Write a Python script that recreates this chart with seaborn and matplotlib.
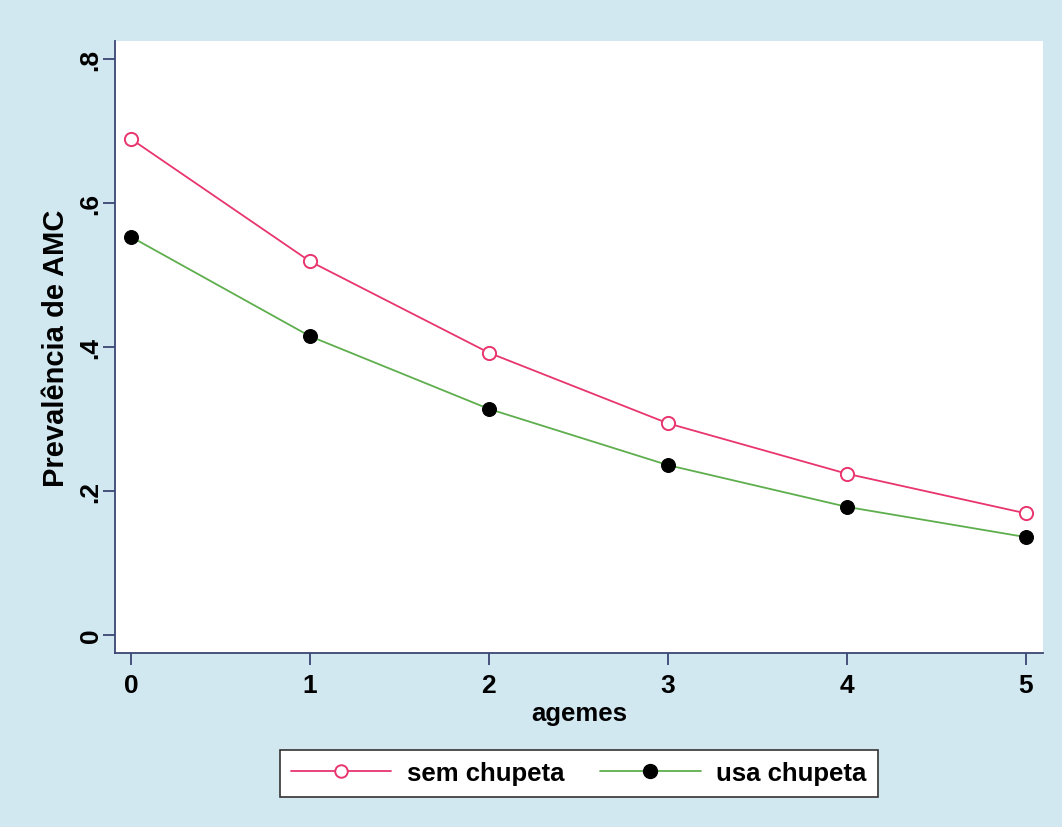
import matplotlib
matplotlib.use("Agg")
import matplotlib.pyplot as plt
import seaborn as sns
import pandas as pd
from matplotlib.lines import Line2D

# Predicted prevalence by age in months
agemes = [0, 1, 2, 3, 4, 5]
sem_chupeta = [0.689, 0.519, 0.392, 0.294, 0.224, 0.169]
usa_chupeta = [0.553, 0.415, 0.314, 0.236, 0.178, 0.136]
y_ticks = [0, 0.2, 0.4, 0.6, 0.8]
y_tick_labels = ["0", ".2", ".4", ".6", ".8"]

sns.set_theme(style="white")
plt.rcParams["font.family"] = ["Liberation Sans", "DejaVu Sans"]
plt.rcParams["text.color"] = "black"
plt.rcParams["axes.labelcolor"] = "black"

bg = "#d1e8f1"
axis_col = "#3b4672"
pink = "#e8356e"
green = "#5fae4e"

fig = plt.figure(figsize=(10.62, 8.28), dpi=100, facecolor=bg)
ax = fig.add_axes([0.1083, 0.2101, 0.8737, 0.7392])
ax.set_facecolor("white")

df_sem = pd.DataFrame({"agemes": agemes, "prev": sem_chupeta})
df_usa = pd.DataFrame({"agemes": agemes, "prev": usa_chupeta})

sns.lineplot(data=df_sem, x="agemes", y="prev", ax=ax, color=pink, lw=1.3,
             marker="o", markersize=9.5, markerfacecolor="white",
             markeredgecolor=pink, markeredgewidth=1.4)
sns.lineplot(data=df_usa, x="agemes", y="prev", ax=ax, color=green, lw=1.3,
             marker="o", markersize=10, markerfacecolor="black",
             markeredgecolor="black")

ax.set_xlim(-0.089, 5.095)
ax.set_ylim(-0.025, 0.825)
ax.set_xticks(agemes)
ax.set_xticklabels([str(a) for a in agemes], fontsize=19, fontweight="bold")
ax.set_yticks(y_ticks)
ax.set_yticklabels(y_tick_labels, fontsize=19, fontweight="bold",
                   rotation=90, va="center")

for s in ["top", "right"]:
    ax.spines[s].set_visible(False)
for s in ["left", "bottom"]:
    ax.spines[s].set_color(axis_col)
    ax.spines[s].set_linewidth(1.3)
ax.tick_params(axis="both", direction="out", color=axis_col, width=1.3,
               length=8.5, labelcolor="black", left=True, bottom=True)
ax.tick_params(axis="x", pad=6)
ax.tick_params(axis="y", pad=0.5)

ax.set_xlabel("agemes", fontsize=18.5, fontweight="bold", labelpad=3)
ax.set_ylabel("Prevalência de AMC", fontsize=21, fontweight="bold",
              labelpad=6)

handles = [
    Line2D([], [], color=pink, lw=1.3, marker="o", markersize=9,
           markerfacecolor="white", markeredgecolor=pink, markeredgewidth=1.4),
    Line2D([], [], color=green, lw=1.3, marker="o", markersize=10,
           markerfacecolor="black", markeredgecolor="black"),
]
leg = fig.legend(handles, ["sem chupeta", "usa chupeta"], loc="center",
                 bbox_to_anchor=(0.545, 0.065), ncol=2,
                 prop={"size": 18.5, "weight": "bold"},
                 frameon=True, fancybox=False, framealpha=1,
                 handlelength=3.9, handletextpad=0.6, columnspacing=1.4,
                 borderpad=0.45, borderaxespad=0)
leg.get_frame().set_edgecolor("#333333")
leg.get_frame().set_linewidth(1.2)
leg.get_frame().set_facecolor("white")

fig.savefig("out.png", dpi=100, facecolor=bg)
